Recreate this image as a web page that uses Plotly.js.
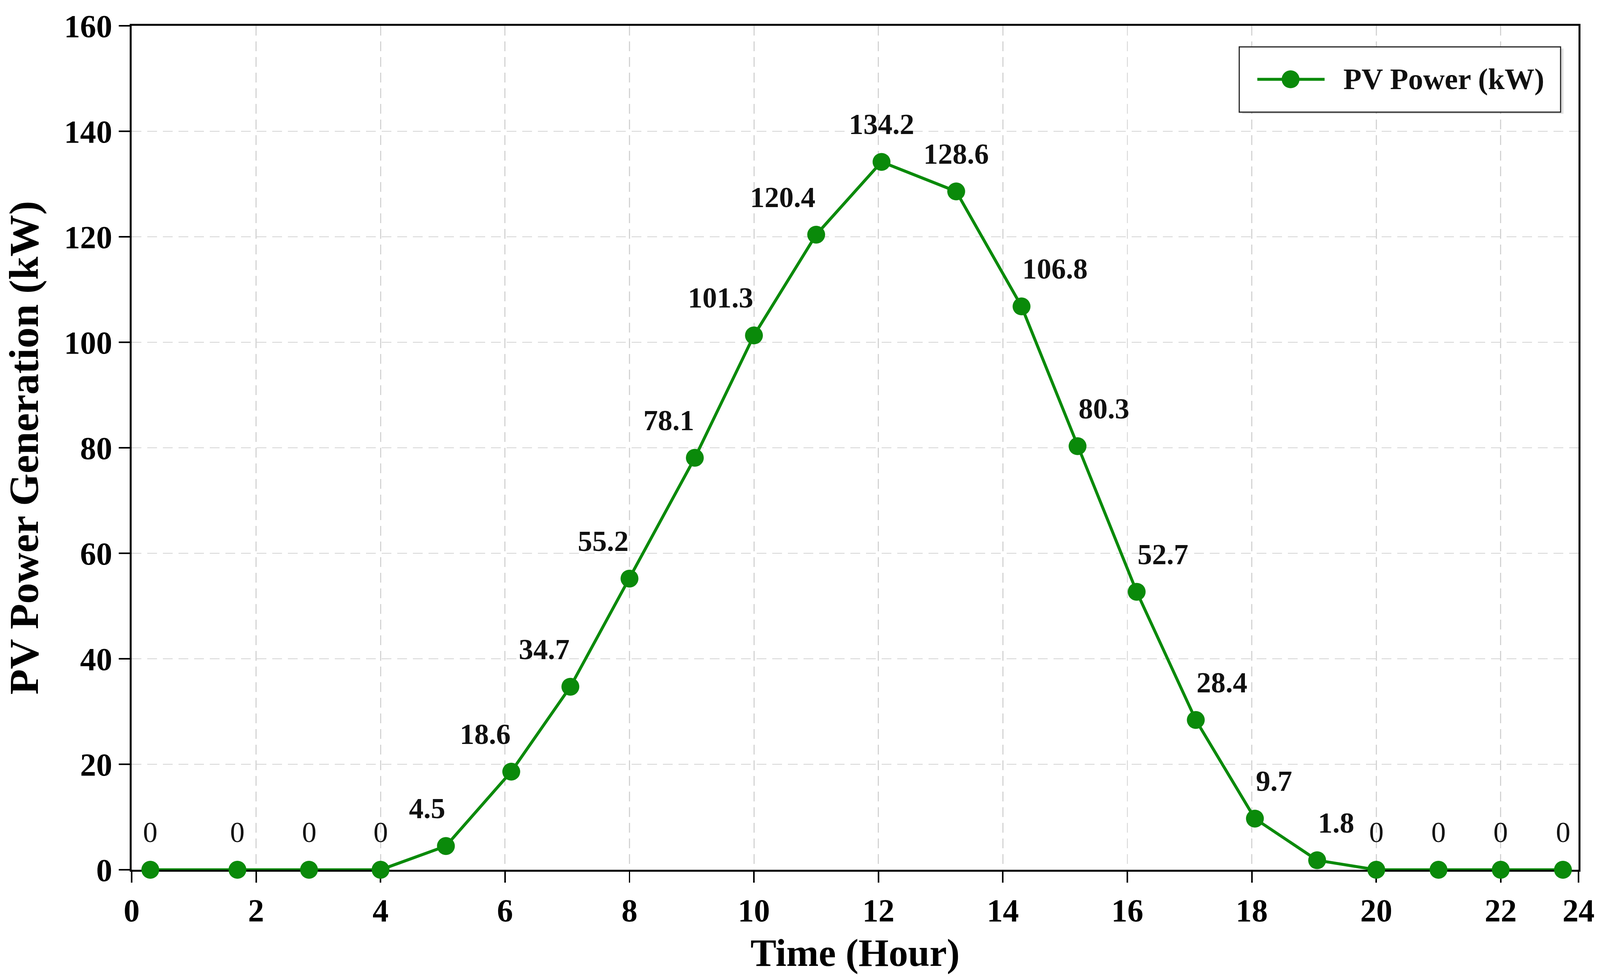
<!DOCTYPE html>
<html>
<head>
<meta charset="utf-8">
<script src="https://cdn.plot.ly/plotly-3.0.1.min.js"></script>
<style>
  html, body { margin: 0; padding: 0; background: #fff; overflow: hidden; }
  #plot { width: 100vw; height: 100vh; }
</style>
</head>
<body>
<div id="plot"></div>
<script>
// values (hour positions as drawn)
const hours = [0.3, 1.7, 2.85, 4, 5.05, 6.1, 7.05, 8, 9.05, 10, 11, 12.05, 13.25,
               14.3, 15.2, 16.15, 17.1, 18.05, 19.05, 20, 21, 22, 23];
const pvPower = [0, 0, 0, 0, 4.5, 18.6, 34.7, 55.2, 78.1, 101.3, 120.4, 134.2, 128.6,
                 106.8, 80.3, 52.7, 28.4, 9.7, 1.8, 0, 0, 0, 0];
const seriesName = 'PV Power (kW)';
const xTickVals = [0, 2, 4, 6, 8, 10, 12, 14, 16, 18, 20, 22, 23.25];
const xTickText = ['0', '2', '4', '6', '8', '10', '12', '14', '16', '18', '20', '22', '24'];

const GREEN = '#0a8a0a';
const FONT = 'Liberation Serif, Times New Roman, serif';

// the layout was measured on a 4292x2503 canvas, scale to the real viewport
const W = window.innerWidth || 4292;
const H = window.innerHeight || 2503;
const sx = W / 4292;
const sy = H / 2503;
const s = Math.min(sx, sy);

const peak = pvPower.indexOf(Math.max(...pvPower));

const labelAnchor = (v, i) => {
    if (v === 0) return 'center';
    if (i < peak) return 'right';
    if (i <= peak + 1) return 'center';
    return 'left';
}

const valueLabels = pvPower.map((v, i) => ({
    x: hours[i],
    y: v,
    xref: 'x',
    yref: 'y',
    text: String(v),
    showarrow: false,
    xanchor: labelAnchor(v, i),
    yanchor: 'middle',
    yshift: 96 * sy,
    font: {family: FONT, size: 78 * s, color: '#111', weight: v === 0 ? 'normal' : 'bold'}
}))

// hand-made legend box, Plotly caps legend marker size
const legendShapes = [
    {type: 'rect', xref: 'paper', yref: 'paper', x0: 0.7675, x1: 0.9896, y0: 0.8957, y1: 0.9730,
     line: {width: 0}, fillcolor: 'rgba(0,0,0,0.12)', layer: 'above'},
    {type: 'rect', xref: 'paper', yref: 'paper', x0: 0.7655, x1: 0.9876, y0: 0.8977, y1: 0.9750,
     line: {color: '#222', width: 3 * s}, fillcolor: '#fff', layer: 'above'},
    {type: 'line', xref: 'paper', yref: 'paper', x0: 0.778, x1: 0.8245, y0: 0.9366, y1: 0.9366,
     line: {color: GREEN, width: 8 * s}, layer: 'above'},
    {type: 'circle', xref: 'paper', yref: 'paper', xsizemode: 'pixel', ysizemode: 'pixel',
     xanchor: 0.801, yanchor: 0.9366, x0: -24 * s, x1: 24 * s, y0: -24 * s, y1: 24 * s,
     line: {width: 0}, fillcolor: GREEN, layer: 'above'}
];

const legendText = {
    xref: 'paper', yref: 'paper', x: 0.837, y: 0.9366,
    text: seriesName, showarrow: false, xanchor: 'left', yanchor: 'middle',
    font: {family: FONT, size: 80 * s, color: '#111', weight: 'bold'}
};

const trace = {
    x: hours,
    y: pvPower,
    name: seriesName,
    type: 'scatter',
    mode: 'lines+markers',
    line: {color: GREEN, width: 8 * s},
    marker: {color: GREEN, size: 48 * s},
    cliponaxis: false,
    showlegend: false
};

const axisCommon = {
    showline: true,
    linecolor: '#000',
    linewidth: 5 * s,
    mirror: true,
    ticks: 'outside',
    ticklen: 30 * s,
    tickwidth: 4 * s,
    tickcolor: '#000',
    showgrid: true,
    gridcolor: '#d4d4d4',
    gridwidth: 3 * s,
    griddash: Math.round(26 * s) + 'px,' + Math.round(16 * s) + 'px',
    zeroline: false,
    layer: 'below traces',
    tickfont: {family: FONT, size: 86 * s, color: '#000', weight: 'bold'}
};

const layout = {
    width: W,
    height: H,
    margin: {l: 353 * sx, r: 58 * sx, t: 66 * sy, b: 277 * sy},
    paper_bgcolor: '#fff',
    plot_bgcolor: '#fff',
    showlegend: false,
    xaxis: Object.assign({}, axisCommon, {
        range: [0, 23.25],
        tickmode: 'array',
        tickvals: xTickVals,
        ticktext: xTickText,
        title: {text: 'Time (Hour)', standoff: 30 * s,
                font: {family: FONT, size: 104 * s, color: '#000', weight: 'bold'}}
    }),
    yaxis: Object.assign({}, axisCommon, {
        range: [0, 160],
        dtick: 20,
        ticklabelstandoff: 18 * s,
        title: {text: 'PV Power Generation (kW)', standoff: 34 * s,
                font: {family: FONT, size: 112 * s, color: '#000', weight: 'bold'}}
    }),
    shapes: legendShapes,
    annotations: valueLabels.concat([legendText])
};

Plotly.newPlot('plot', [trace], layout, {staticPlot: true, displayModeBar: false});
</script>
</body>
</html>
